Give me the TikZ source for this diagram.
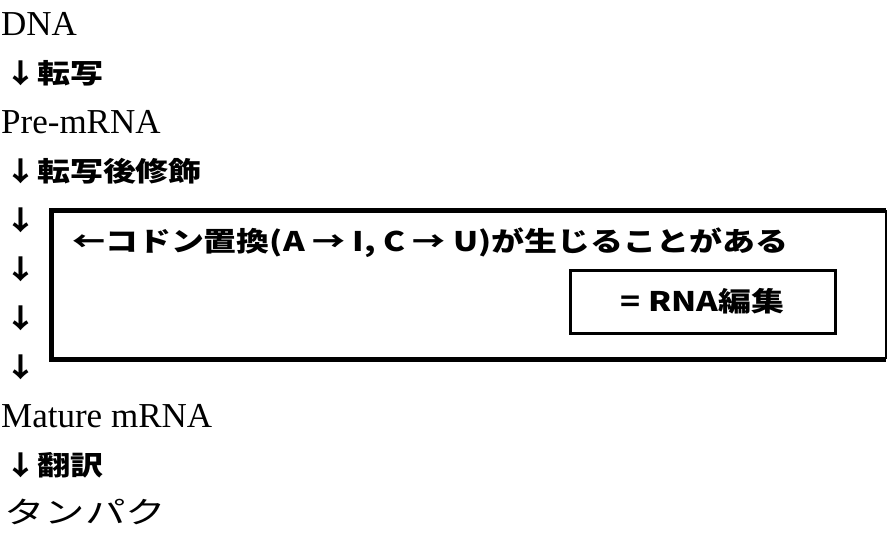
\documentclass[tikz,border=0pt]{standalone}
\usepackage{fontspec}
\newfontfamily\serifrm{Liberation Serif}
\newfontfamily\jpb[FakeStretch=1.22]{Noto Sans CJK JP}
\newfontfamily\jpr[FakeStretch=1.35]{Noto Sans CJK JP}
\begin{document}
\begin{tikzpicture}[x=1pt,y=-1pt,
  lbl/.style={anchor=west,inner sep=0pt},
  serif/.style={lbl,font=\serifrm\fontsize{35}{40}\selectfont},
  jpbold/.style={lbl,font=\jpb\bfseries\fontsize{27}{32}\selectfont},
  jpreg/.style={lbl,font=\jpr\fontsize{30}{34}\selectfont},
  frame/.style={line width=5pt},
  editbox/.style={draw,line width=3pt,minimum width=265pt,minimum height=63pt,inner sep=0pt,
    font=\jpb\bfseries\fontsize{27}{32}\selectfont}]
\useasboundingbox (0,0) rectangle (888,533);
\node[serif] (dna) at (1,24) {DNA};
\node[jpbold] (tr) at (4,73) {↓転写};
\node[serif] (pre) at (1,122) {Pre-mRNA};
\node[jpbold] (ptm) at (4,171) {↓転写後修飾};
\node[jpbold] (a1) at (4,220) {↓};
\node[jpbold] (a2) at (4,269) {↓};
\node[jpbold] (a3) at (4,318) {↓};
\node[jpbold] (a4) at (4,367) {↓};
\node[serif] (mat) at (1,416) {Mature mRNA};
\node[jpbold] (tl) at (4,465) {↓翻訳};
\node[jpreg] (prot) at (4,512) {タンパク};
% frame
\coordinate (ftr) at (886,210);
\coordinate (ftl) at (51,210);
\coordinate (fbl) at (51,359);
\coordinate (fbr) at (886,359);
\draw[frame] (ftr) -- (ftl) -- (fbl) -- (fbr);
\draw[line width=1.5pt] (ftr) -- (fbr);
\node[jpbold] (codon) at (72,243) {←コドン置換(A → I, C → U)が生じることがある};
\node[editbox] (edit) at (702.5,301.5) {= RNA編集};
\end{tikzpicture}
\end{document}
